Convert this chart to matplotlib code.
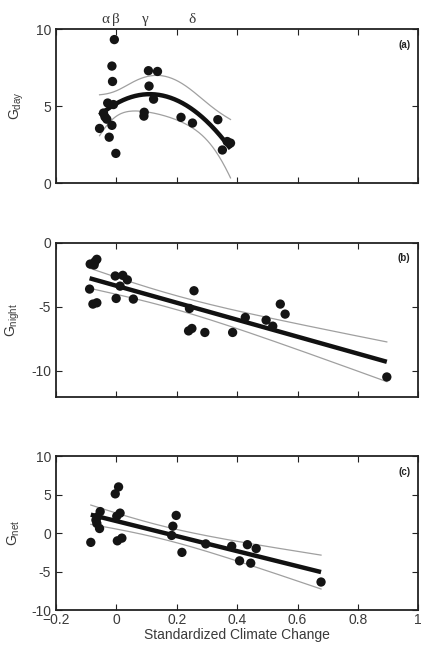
import numpy as np
import matplotlib
matplotlib.use('Agg')
import matplotlib.pyplot as plt
import matplotlib.transforms as mtransforms

plt.rcParams['font.family'] = ['Liberation Sans', 'DejaVu Sans']

# Panel (a): daytime
x_day = [-0.056, -0.043, -0.038, -0.032, -0.029, -0.024, -0.015, -0.013, -0.015, -0.010,
         -0.007, -0.002, 0.091, 0.092, 0.106, 0.108, 0.123, 0.136, 0.214, 0.252,
         0.336, 0.351, 0.367, 0.378]
y_day = [3.55, 4.55, 4.3, 4.15, 5.2, 2.98, 3.75, 6.6, 7.6, 5.1,
         9.32, 1.93, 4.35, 4.6, 7.3, 6.3, 5.45, 7.25, 4.27, 3.9,
         4.12, 2.15, 2.7, 2.6]

# Panel (b): night-time
x_night = [-0.087, -0.071, -0.065, -0.074, -0.089, -0.078, -0.065, -0.004, 0.021, 0.036,
           0.012, -0.001, 0.056, 0.242, 0.257, 0.239, 0.250, 0.293, 0.385, 0.427,
           0.496, 0.518, 0.543, 0.559, 0.896]
y_night = [-1.67, -1.48, -1.30, -1.74, -3.62, -4.79, -4.69, -2.60, -2.55, -2.90,
           -3.39, -4.35, -4.40, -5.13, -3.75, -6.88, -6.69, -7.0, -7.0, -5.83,
           -6.04, -6.51, -4.79, -5.57, -10.47]

# Panel (c): net
x_net = [-0.085, -0.054, -0.063, -0.065, -0.056, -0.068, -0.004, 0.007, 0.001, 0.012,
         0.003, 0.018, 0.187, 0.198, 0.183, 0.217, 0.296, 0.382, 0.434, 0.463,
         0.408, 0.445, 0.678]
y_net = [-1.2, 2.8, 2.1, 1.26, 0.6, 1.7, 5.1, 6.0, 2.2, 2.6,
         -1.0, -0.65, 0.9, 2.3, -0.3, -2.5, -1.4, -1.7, -1.5, -2.0,
         -3.6, -3.9, -6.35]

greek_labels = ['\u03b1', '\u03b2', '\u03b3', '\u03b4']
greek_x = [-0.036, -0.002, 0.097, 0.252]


def fit_with_band(x, y, deg):
    x = np.asarray(x)
    y = np.asarray(y)
    coef = np.polyfit(x, y, deg)
    xs = np.linspace(x.min(), x.max(), 200)
    X = np.vander(x, deg + 1)
    Xs = np.vander(xs, deg + 1)
    resid = y - X @ coef
    dof = len(x) - (deg + 1)
    s2 = resid @ resid / dof
    cov = s2 * np.linalg.inv(X.T @ X)
    se = np.sqrt(np.einsum('ij,jk,ik->i', Xs, cov, Xs))
    ys = Xs @ coef
    return xs, ys, ys - 2.07 * se, ys + 2.07 * se


def style_axes(ax):
    ax.set_xlim(-0.2, 1.0)
    ax.tick_params(direction='in', top=True, right=True, length=4, width=0.8,
                   labelsize=10, colors='#222222', labelcolor='#3a3a3a')
    ax.tick_params(axis='x', pad=2)
    for sp in ax.spines.values():
        sp.set_linewidth(1.3)
        sp.set_color('#222222')
    ax.set_xticks([-0.2, 0, 0.2, 0.4, 0.6, 0.8, 1.0])


fig = plt.figure(figsize=(4.25, 6.47), dpi=100)
ax_a = fig.add_axes([0.132, 0.717, 0.852, 0.238])
ax_b = fig.add_axes([0.132, 0.387, 0.852, 0.238])
ax_c = fig.add_axes([0.132, 0.057, 0.852, 0.238])

panels = [
    (ax_a, x_day, y_day, 2, (0, 10), [0, 5, 10], 'G$_{\\mathregular{day}}$', '(a)'),
    (ax_b, x_night, y_night, 1, (-12, 0), [-10, -5, 0], 'G$_{\\mathregular{night}}$', '(b)'),
    (ax_c, x_net, y_net, 1, (-10, 10), [-10, -5, 0, 5, 10], 'G$_{\\mathregular{net}}$', '(c)'),
]

for ax, x, y, deg, ylim, yticks, ylab, tag in panels:
    style_axes(ax)
    xs, ys, lo, hi = fit_with_band(x, y, deg)
    ax.plot(xs, hi, color='#a0a0a0', lw=0.9, zorder=2)
    ax.plot(xs, lo, color='#a0a0a0', lw=0.9, zorder=2)
    ax.plot(xs, ys, color='#111111', lw=3.2, zorder=3, solid_capstyle='butt')
    ax.scatter(x, y, s=45, color='#141414', edgecolors='none', zorder=4)
    ax.set_ylim(*ylim)
    ax.set_yticks(yticks)
    ax.set_yticklabels([str(v) for v in yticks])
    ax.set_ylabel(ylab, fontsize=10, color='#3a3a3a', labelpad=7)
    ax.text(0.978, 0.93, tag, transform=ax.transAxes, ha='right', va='top',
            fontsize=7, fontweight='bold', color='#222222')
    if ax is not ax_c:
        ax.set_xticklabels([])

ax_c.set_xticklabels(['\u22120.2', '0', '0.2', '0.4', '0.6', '0.8', '1'])
ax_c.set_xlabel('Standardized Climate Change', fontsize=10, color='#3a3a3a', labelpad=1)

trans = mtransforms.blended_transform_factory(ax_a.transData, ax_a.transAxes)
for lab, gx in zip(greek_labels, greek_x):
    ax_a.text(gx, 1.02, lab, transform=trans, ha='center', va='bottom',
              fontsize=11, family='Liberation Serif', color='#3a3a3a')

fig.savefig('out.png', dpi=100)
